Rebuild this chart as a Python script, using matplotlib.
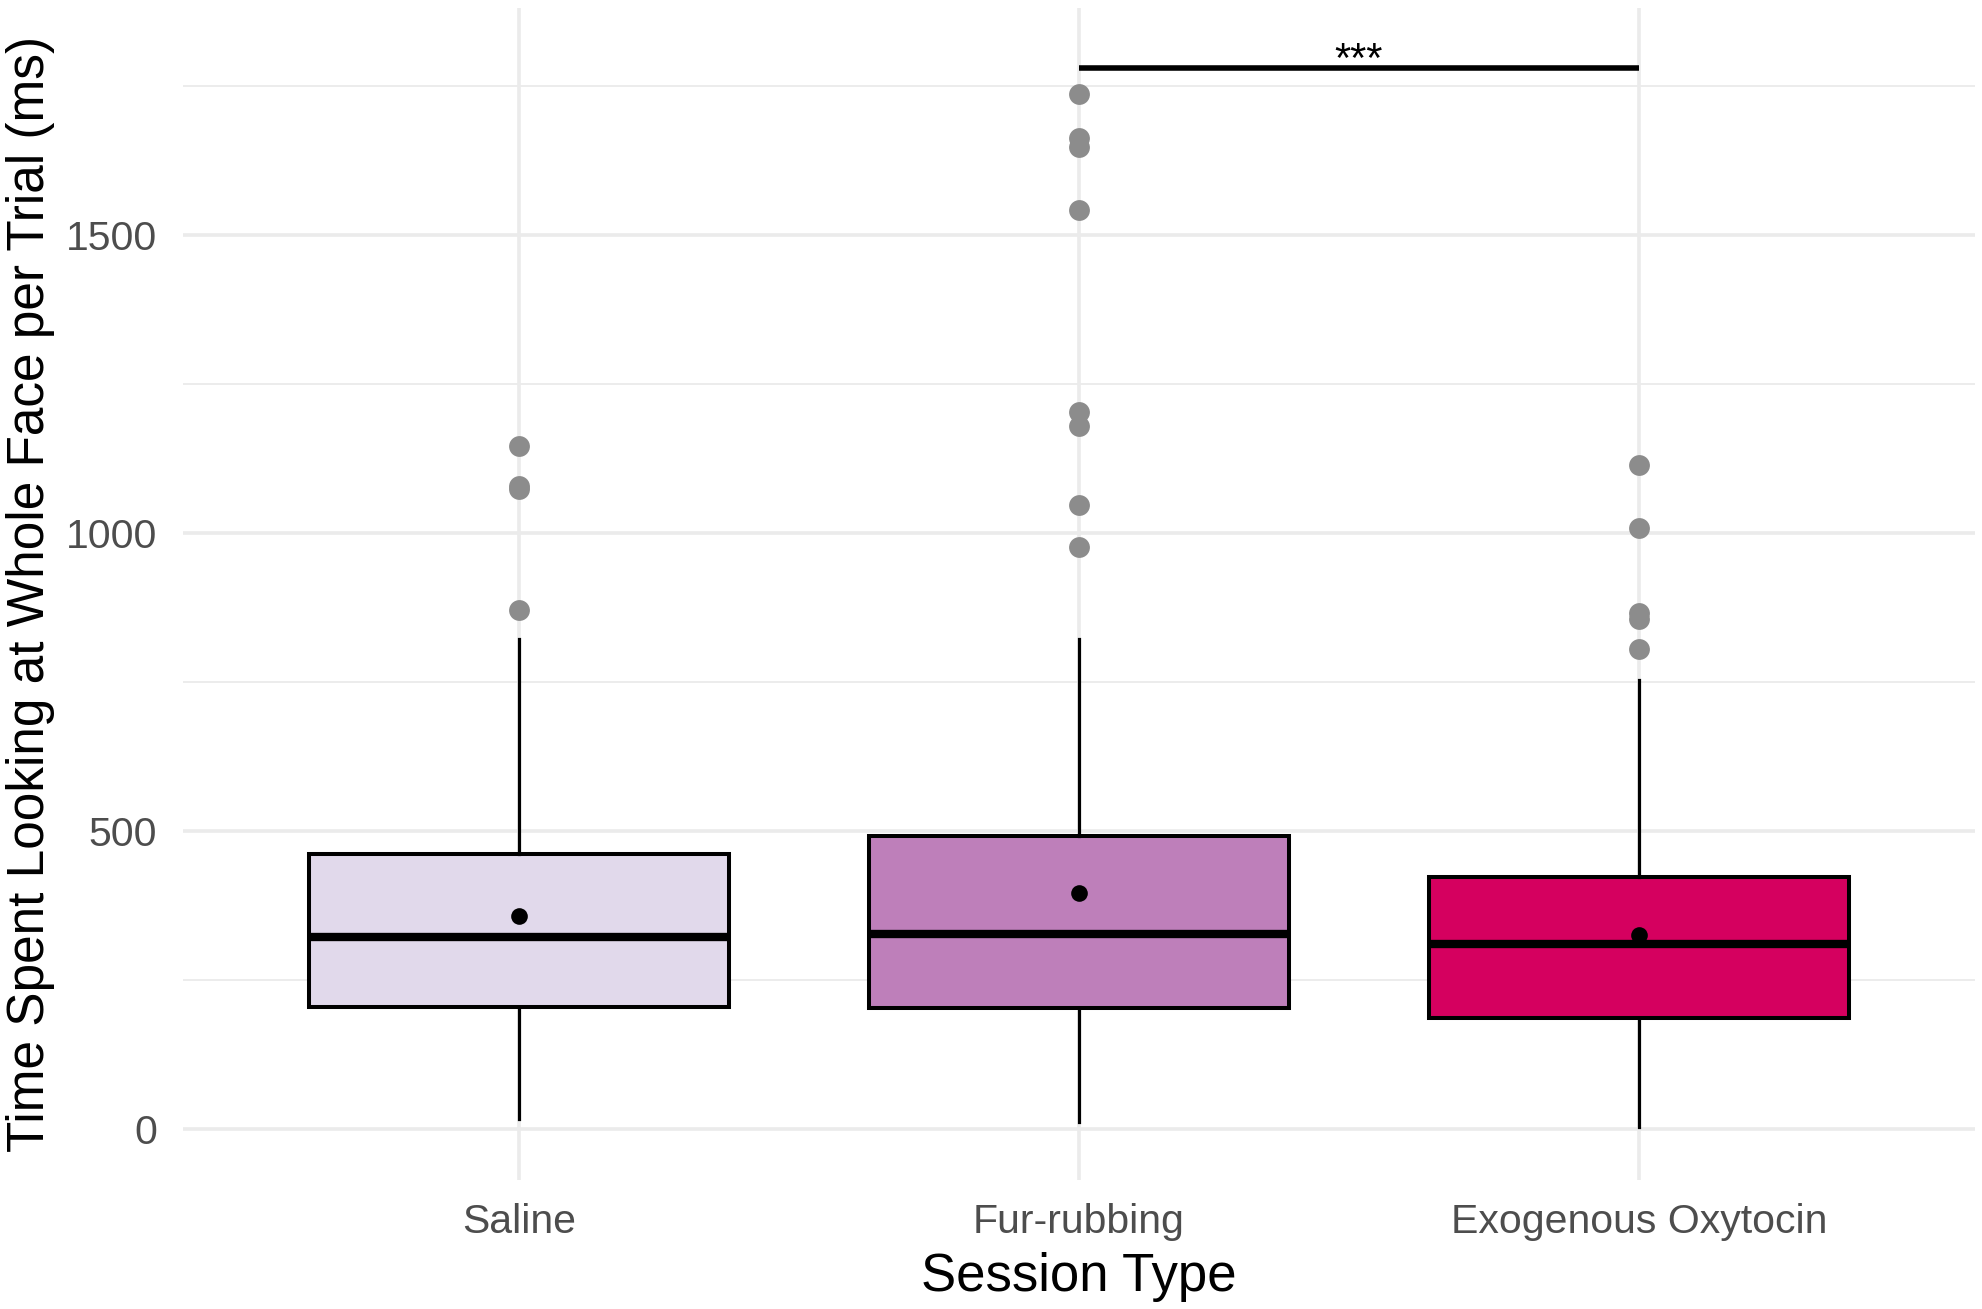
import matplotlib.pyplot as plt
from matplotlib.ticker import MultipleLocator

plt.rcParams['font.family'] = ['Liberation Sans', 'DejaVu Sans']

sessions = ["Saline", "Fur-rubbing", "Exogenous Oxytocin"]
colors = ["#E1D9EB", "#BE7FBA", "#D5005F"]

q1 = [205, 203, 186]
medians = [322, 328, 311]
q3 = [462, 492, 424]
means = [358, 396, 326]
whisker_lo = [17, 13, 4]
whisker_hi = [822, 822, 754]
outliers = [
    [1146, 1080, 1074, 871],
    [1737, 1663, 1648, 1542, 1203, 1180, 1047, 977],
    [1114, 1008, 866, 856, 805],
]

sig_pair = (2, 3)
sig_y = 1780
sig_label = "***"

stats = []
for i, name in enumerate(sessions):
    stats.append(dict(label=name, q1=q1[i], med=medians[i], q3=q3[i],
                      mean=means[i], whislo=whisker_lo[i], whishi=whisker_hi[i],
                      fliers=outliers[i]))

fig = plt.figure(figsize=(19.83, 13.09), dpi=100)
ax = fig.add_axes([183 / 1983, 1 - 1180 / 1309, (1975 - 183) / 1983, (1180 - 8) / 1309])

positions = [1, 2, 3]
bp = ax.bxp(stats, positions=positions, widths=0.75, patch_artist=True,
            showmeans=True, showcaps=False,
            boxprops=dict(linewidth=2.9, edgecolor='black'),
            medianprops=dict(color='black', linewidth=6),
            whiskerprops=dict(color='black', linewidth=2.3),
            flierprops=dict(marker='o', markerfacecolor='#8C8C8C', markeredgecolor='none',
                            markersize=15),
            meanprops=dict(marker='o', markerfacecolor='black', markeredgecolor='none',
                           markersize=12))
for patch, c in zip(bp['boxes'], colors):
    patch.set_facecolor(c)
for m in bp['means']:
    m.set_zorder(5)

# significance bracket
ax.plot(sig_pair, [sig_y, sig_y], color='black', linewidth=4, solid_capstyle='butt')
ax.text(sum(sig_pair) / 2, sig_y - 7, sig_label, ha='center', va='baseline', fontsize=30)

ax.set_xlim(0.4, 3.6)
ax.set_ylim(-85, 1881)
ax.yaxis.set_major_locator(MultipleLocator(500))
ax.yaxis.set_minor_locator(MultipleLocator(250))
ax.set_xticks(positions)
ax.set_xticklabels(sessions)

ax.set_axisbelow(True)
ax.grid(True, which='major', color='#EBEBEB', linewidth=2.6)
ax.grid(True, which='minor', axis='y', color='#EBEBEB', linewidth=1.3)
for s in ax.spines.values():
    s.set_visible(False)
ax.tick_params(which='both', length=0)
ax.tick_params(axis='x', labelsize=29.5, labelcolor='#4D4D4D', pad=16.5)
ax.tick_params(axis='y', labelsize=29.5, labelcolor='#4D4D4D', pad=18.5)

ax.set_xlabel("Session Type", fontsize=38, color='black', labelpad=8)
fig.text(31 / 1983, 1 - 594 / 1309, "Time Spent Looking at Whole Face per Trial (ms)",
         rotation=90, ha='center', va='center', fontsize=37, color='black')

fig.savefig("out.png", dpi=100, facecolor='white')
